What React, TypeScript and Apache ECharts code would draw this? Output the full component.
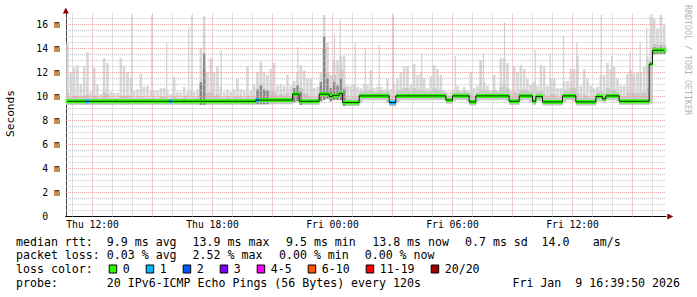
import { useEffect, useRef } from "react";
import * as echarts from "echarts";

// Time axis: minutes since Thu 00:00. Bins of 10 minutes starting Thu 10:40.
const START = 640;
const END = 2440;
const STEP = 10;

// median RTT (ms) per 10-minute bin, 6 bins per row (= 1 hour)
const median = [
  9.6, 9.6, 9.6, 9.6, 9.6, 9.6,
  9.6, 9.6, 9.6, 9.6, 9.6, 9.6,
  9.6, 9.6, 9.6, 9.6, 9.6, 9.6,
  9.6, 9.6, 9.6, 9.6, 9.6, 9.6,
  9.6, 9.6, 9.6, 9.6, 9.6, 9.6,
  9.6, 9.6, 9.6, 9.6, 9.6, 9.6,
  9.6, 9.6, 9.6, 9.6, 9.6, 9.6,
  9.6, 9.6, 9.6, 9.6, 9.6, 9.6,
  9.6, 9.6, 9.6, 9.6, 9.6, 9.6,
  9.6, 9.6, 9.6, 9.7, 9.7, 9.7,
  9.7, 9.7, 9.7, 9.7, 9.7, 9.7,
  9.7, 9.7, 10.2, 10.2, 9.6, 9.6,
  9.6, 9.6, 9.6, 9.6, 10.2, 10.2,
  10.2, 10.0, 10.1, 10.1, 10.25, 9.5,
  9.5, 9.5, 9.5, 9.5, 10.05, 10.05,
  10.05, 10.05, 10.05, 10.05, 10.05, 10.05,
  10.05, 9.5, 9.5, 10.05, 10.05, 10.05,
  10.05, 10.05, 10.05, 10.05, 10.05, 10.05,
  10.05, 10.05, 10.05, 10.05, 10.05, 10.05,
  9.7, 9.7, 10.05, 10.05, 10.05, 10.05,
  10.05, 9.55, 9.55, 10.05, 10.05, 10.05,
  10.05, 10.05, 10.05, 10.05, 10.05, 10.05,
  10.05, 9.6, 9.6, 9.6, 10.05, 10.05,
  10.05, 10.05, 9.6, 10.0, 10.0, 9.55,
  9.55, 9.55, 9.55, 9.55, 9.55, 10.05,
  10.05, 10.05, 10.05, 9.55, 9.55, 9.55,
  9.55, 9.55, 9.55, 10.0, 10.0, 9.8,
  10.05, 10.05, 10.05, 10.05, 9.6, 9.6,
  9.6, 9.6, 9.6, 9.6, 9.6, 9.6,
  9.6, 12.7, 13.85, 13.85, 13.85, 13.85,
];

// lowest ping per bin
const smokeMin = [
  9.3, 9.3, 9.3, 9.3, 9.3, 9.3,
  9.3, 9.3, 9.3, 9.3, 9.3, 9.3,
  9.3, 9.3, 9.3, 9.3, 9.3, 9.3,
  9.3, 9.3, 9.3, 9.3, 9.3, 9.3,
  9.3, 9.3, 9.3, 9.3, 9.3, 9.3,
  9.3, 9.3, 9.3, 9.3, 9.3, 9.3,
  9.3, 9.3, 9.3, 9.3, 9.3, 9.3,
  9.3, 9.3, 9.3, 9.3, 9.3, 9.3,
  9.3, 9.3, 9.3, 9.3, 9.3, 9.3,
  9.3, 9.3, 9.3, 9.35, 9.35, 9.35,
  9.35, 9.35, 9.35, 9.35, 9.35, 9.35,
  9.35, 9.35, 9.5, 9.6, 9.3, 9.3,
  9.3, 9.3, 9.3, 9.3, 9.6, 9.7,
  9.8, 9.6, 9.7, 9.7, 9.7, 9.2,
  9.2, 9.2, 9.2, 9.2, 9.5, 9.7,
  9.7, 9.7, 9.7, 9.7, 9.7, 9.7,
  9.5, 9.2, 9.2, 9.5, 9.7, 9.7,
  9.7, 9.7, 9.7, 9.7, 9.7, 9.7,
  9.7, 9.7, 9.7, 9.7, 9.7, 9.7,
  9.4, 9.4, 9.6, 9.7, 9.7, 9.7,
  9.6, 9.25, 9.25, 9.6, 9.7, 9.7,
  9.7, 9.7, 9.7, 9.7, 9.7, 9.7,
  9.6, 9.3, 9.3, 9.3, 9.6, 9.7,
  9.7, 9.5, 9.3, 9.6, 9.6, 9.25,
  9.25, 9.25, 9.25, 9.25, 9.25, 9.5,
  9.7, 9.7, 9.6, 9.25, 9.25, 9.25,
  9.25, 9.25, 9.25, 9.6, 9.6, 9.5,
  9.7, 9.7, 9.7, 9.6, 9.3, 9.3,
  9.3, 9.3, 9.3, 9.3, 9.3, 9.3,
  9.3, 9.4, 13.5, 13.55, 13.55, 13.55,
];

// upper edge of the dense smoke around the median
const smokeMid = [
  10.3, 10.0, 10.1, 10.1, 10.0, 10.1,
  10.2, 9.9, 10.1, 10.0, 9.9, 10.4,
  10.2, 9.9, 9.9, 9.9, 10.1, 10.1,
  10.1, 10.0, 9.9, 9.9, 10.0, 9.9,
  9.9, 9.9, 9.9, 9.9, 10.0, 10.0,
  9.9, 9.9, 10.0, 9.9, 9.9, 10.0,
  9.9, 9.9, 9.9, 10.0, 11.0, 12.2,
  10.3, 10.4, 10.1, 10.2, 10.0, 9.9,
  10.0, 9.9, 10.0, 10.1, 10.0, 9.9,
  10.1, 9.9, 10.0, 10.6, 11.0, 10.6,
  10.5, 10.5, 10.4, 10.1, 10.2, 10.1,
  10.3, 10.1, 10.7, 11.0, 10.7, 10.3,
  10.2, 10.0, 9.9, 10.0, 10.8, 14.0,
  12.0, 10.6, 11.8, 11.0, 12.3, 10.8,
  9.9, 9.9, 10.0, 9.9, 10.4, 10.5,
  10.5, 10.6, 10.4, 10.4, 10.5, 10.4,
  10.5, 9.9, 10.0, 10.5, 10.6, 10.7,
  10.7, 10.5, 10.7, 10.6, 10.6, 10.5,
  10.4, 10.5, 10.7, 10.6, 10.6, 10.4,
  10.1, 10.1, 10.4, 10.5, 10.4, 10.5,
  10.4, 10.3, 10.0, 10.4, 10.6, 10.5,
  10.5, 10.4, 10.6, 10.4, 10.8, 11.0,
  10.7, 10.1, 10.4, 10.3, 10.6, 10.6,
  10.5, 10.4, 10.1, 10.4, 10.5, 10.2,
  10.0, 10.2, 10.2, 9.9, 10.0, 10.5,
  10.5, 10.7, 10.7, 10.3, 9.9, 10.2,
  10.0, 9.9, 9.9, 10.4, 10.5, 10.3,
  10.7, 10.6, 10.6, 10.4, 10.1, 10.0,
  10.3, 10.4, 10.3, 10.3, 10.3, 10.4,
  10.7, 13.0, 14.4, 14.3, 14.4, 14.3,
];

// highest ping per bin
const smokeMax = [
  14.4, 12.0, 12.4, 12.6, 11.0, 12.5,
  13.7, 10.4, 12.4, 11.0, 10.2, 13.2,
  12.8, 10.4, 10.3, 10.3, 13.2, 12.5,
  12.0, 11.5, 10.5, 10.6, 11.9, 10.8,
  10.9, 10.5, 10.5, 10.5, 10.7, 10.7,
  10.4, 10.2, 11.6, 10.4, 10.4, 10.8,
  10.4, 10.5, 10.4, 10.6, 14.0, 16.7,
  12.0, 13.2, 12.0, 12.5, 10.8, 10.4,
  10.6, 10.4, 10.6, 11.5, 10.6, 10.5,
  12.5, 10.5, 11.0, 12.0, 12.9, 12.0,
  11.8, 12.3, 12.8, 10.9, 11.0, 10.9,
  11.8, 10.9, 11.3, 12.0, 12.6, 12.2,
  11.5, 11.5, 10.7, 10.8, 12.0, 16.8,
  14.5, 11.8, 13.0, 13.0, 13.4, 13.4,
  10.9, 10.9, 11.0, 10.8, 10.7, 11.0,
  11.0, 12.2, 10.7, 10.8, 10.8, 10.6,
  11.5, 10.6, 11.0, 11.5, 12.0, 12.5,
  12.5, 11.0, 12.7, 11.8, 12.0, 11.5,
  10.7, 11.7, 12.6, 12.3, 11.8, 10.5,
  10.4, 10.4, 10.6, 10.9, 10.5, 10.8,
  10.5, 12.05, 10.7, 10.9, 13.0, 11.2,
  10.9, 10.5, 11.8, 10.5, 13.2, 13.2,
  12.8, 10.5, 12.5, 12.0, 12.6, 12.3,
  11.5, 11.0, 11.2, 10.9, 12.6, 12.5,
  10.9, 11.5, 11.5, 10.7, 10.7, 11.2,
  11.3, 12.3, 12.3, 13.4, 10.9, 12.3,
  11.5, 10.9, 10.7, 10.8, 11.8, 11.8,
  12.8, 12.3, 12.5, 11.5, 10.9, 10.9,
  11.9, 12.2, 11.9, 12.0, 12.0, 12.5,
  13.3, 16.8, 16.5, 15.7, 16.8, 16.0,
];

// bins with dark (dense) smoke: [bin, top ms]
const darkSmoke = [
  [40, 11.2], [41, 13.6], [57, 10.6], [58, 10.9], [59, 10.6], [60, 10.5],
  [68, 10.7], [69, 10.9], [70, 10.4], [76, 11.2], [77, 15.0], [78, 11.5],
  [79, 10.7], [80, 11.2], [81, 10.9], [82, 11.5], [83, 10.6],
  [176, 14.1], [177, 14.0], [178, 14.1], [179, 14.0],
];

// single thin smoke spikes: [minute, top ms]
const spikes = [
  [838, 16.8], [898, 16.8], [943, 14.5], [1009, 15.7], [1018, 16.8], [1106, 13.9],
  [1336, 14.1], [1446, 15.2], [1463, 16.4], [1508, 14.5], [1538, 14.0], [1580, 14.3],
  [1623, 16.8], [1708, 13.6], [1808, 13.4], [1883, 13.0], [1893, 13.6], [1956, 16.2],
  [2048, 13.9], [2093, 13.6], [2133, 15.0], [2173, 14.5], [2246, 16.8], [2278, 13.4],
  [2333, 13.7], [2363, 14.5], [2383, 15.7],
];

// bins with packet loss: [bin, loss color index]
const lossBins = [[6, 1], [31, 1], [57, 1], [97, 1], [98, 1]];

const xLabelValues = [720, 1080, 1440, 1800, 2160];
const xLabelTexts = ["Thu 12:00", "Thu 18:00", "Fri 00:00", "Fri 06:00", "Fri 12:00"];
const yLabelValues = [0, 2, 4, 6, 8, 10, 12, 14, 16];

const lossLabels = ["0", "1", "2", "3", "4-5", "6-10", "11-19", "20/20"];
const lossColors = ["#26ff00", "#00b8ff", "#0059ff", "#7e00ff", "#ff00ff", "#ff5500", "#ff0000", "#a10000"];

const rttStats = ["9.9 ms avg", "13.9 ms max", "9.5 ms min", "13.8 ms now", "0.7 ms sd", "14.0", "am/s"];
const lossStats = ["0.03 % avg", "2.52 % max", "0.00 % min", "0.00 % now"];
const probeText = "20 IPv6-ICMP Echo Pings (56 Bytes) every 120s";
const dateText = "Fri Jan  9 16:39:50 2026";

const MONO = "DejaVu Sans Mono";

export default function App() {
  const ref = useRef<HTMLDivElement>(null);

  useEffect(() => {
    const chart = echarts.init(ref.current!, null, { renderer: "svg" });

    const binStart = (i: number) => START + i * STEP;
    const hazeData = median.map((_, i) => [binStart(i), binStart(i) + STEP, smokeMin[i], smokeMid[i]]);
    const lightData = median.map((_, i) => [binStart(i) + STEP / 2, smokeMid[i], smokeMax[i]]);
    const darkData = darkSmoke.map(([b, top]) => [binStart(b) + STEP / 2, smokeMin[b], top]);
    const spikeData = spikes.map(([t, top]) => [t, median[Math.floor((t - START) / STEP)], top]);
    const lineData = median.map((m, i) => [binStart(i) + STEP / 2, m]);
    const lossMap: Record<number, number> = {};
    lossBins.forEach(([b, c]) => (lossMap[b] = c));
    const greenData = median.map((m, i) => [binStart(i), binStart(i) + STEP, m, lossMap[i] || 0]);

    // grid positions (hourly minor, 3-hourly major; 0.5 ms minor, 2 ms major)
    const minorX: number[] = [];
    const majorX: number[] = [];
    for (let t = 660; t < END; t += 60) {
      if (t % 180 === 0) majorX.push(t);
      else minorX.push(t);
    }
    const minorY: number[] = [];
    for (let v = 0.5; v < 17; v += 0.5) if (v % 2 !== 0) minorY.push(v);
    const majorY = yLabelValues.filter((v) => v > 0);

    const band = (color: string) => (params: any, api: any) => {
      const a = api.coord([api.value(0), api.value(2)]);
      const b = api.coord([api.value(1), api.value(3)]);
      return {
        type: "rect",
        shape: { x: a[0], y: b[1], width: b[0] - a[0] + 0.35, height: a[1] - b[1] },
        style: { fill: color },
      };
    };
    const thin = (color: string, w: number) => (params: any, api: any) => {
      const a = api.coord([api.value(0), api.value(1)]);
      const b = api.coord([api.value(0), api.value(2)]);
      return {
        type: "rect",
        shape: { x: a[0] - w / 2, y: b[1], width: w, height: a[1] - b[1] },
        style: { fill: color },
      };
    };

    const gridSeries = (name: string, color: string, xs: number[], ys: number[]) => ({
      type: "line",
      name,
      data: [],
      silent: true,
      markLine: {
        silent: true,
        z: 3,
        symbol: ["none", "none"],
        label: { show: false },
        emphasis: { disabled: true },
        lineStyle: { color, width: 1, type: [1, 1] },
        data: [...xs.map((t) => ({ xAxis: t })), ...ys.map((v) => ({ yAxis: v }))],
      },
    });

    // legend graphics
    const rowY = [241.5, 255.3, 269.3, 282.8];
    const txt = (x: number, y: number, text: string, extra: any = {}) => ({
      type: "text",
      x,
      y,
      silent: true,
      style: { text, fill: "#000", font: `11.6px '${MONO}'`, textAlign: "left", textVerticalAlign: "middle", ...extra },
    });
    const graphics: any[] = [];
    graphics.push(txt(16, rowY[0], "median rtt:"));
    const rttX = [106.8, 192.6, 286, 372.2, 465, 541.5, 592.8];
    rttStats.forEach((s, i) => graphics.push(txt(rttX[i], rowY[0], s)));
    graphics.push(txt(16, rowY[1], "packet loss:"));
    const lossX = [106.8, 192.6, 279, 364.7];
    lossStats.forEach((s, i) => graphics.push(txt(lossX[i], rowY[1], s)));
    graphics.push(txt(16, rowY[2], "loss color:"));
    let bx = 108.7;
    lossLabels.forEach((lab, i) => {
      graphics.push({
        type: "rect",
        silent: true,
        shape: { x: bx + 0.5, y: rowY[2] - 4.3, width: 7.5, height: 8 },
        style: { fill: lossColors[i], stroke: "#000", lineWidth: 1 },
      });
      graphics.push(txt(bx + 14, rowY[2], lab));
      bx += 30 + 7 * lab.length;
    });
    graphics.push(txt(16, rowY[3], "probe:"));
    graphics.push(txt(106.8, rowY[3], probeText));
    graphics.push(txt(680, rowY[3], dateText, { textAlign: "right" }));
    graphics.push({
      type: "text",
      x: 10,
      y: 113.5,
      rotation: Math.PI / 2,
      silent: true,
      style: { text: "Seconds", fill: "#000", font: `11.2px '${MONO}'`, textAlign: "center", textVerticalAlign: "middle" },
    });
    graphics.push({
      type: "text",
      x: 688,
      y: 60,
      rotation: -Math.PI / 2,
      silent: true,
      style: { text: "RRDTOOL / TOBI OETIKER", fill: "#b4b4b4", font: `8.3px '${MONO}'`, textAlign: "center", textVerticalAlign: "middle" },
    });

    const option: any = {
      animation: false,
      backgroundColor: "#ffffff",
      textStyle: { fontFamily: MONO },
      grid: { left: 65.83, top: 12.5, width: 600, height: 204, containLabel: false, outerBoundsMode: "none" },
      xAxis: [
        {
          type: "value",
          min: START,
          max: END,
          position: "bottom",
          axisLine: {
            show: true,
            onZero: false,
            lineStyle: { color: "#8b0000", width: 1 },
            symbol: ["none", "triangle"],
            symbolSize: [6, 6],
            symbolOffset: [0, 4.5],
          },
          axisTick: { show: false },
          axisLabel: { show: false },
          splitLine: { show: false },
        },
        {
          type: "value",
          min: START,
          max: END,
          position: "bottom",
          axisLine: { show: true, onZero: false, lineStyle: { color: "#000", width: 1 } },
          axisTick: { show: false },
          axisLabel: {
            show: true,
            customValues: xLabelValues,
            formatter: (v: number) => {
              const k = xLabelValues.indexOf(v);
              return k >= 0 ? xLabelTexts[k] : "";
            },
            fontFamily: MONO,
            fontSize: 9.7,
            color: "#000",
            margin: 3,
          },
          splitLine: { show: false },
        },
      ],
      yAxis: [
        {
          type: "value",
          min: 0,
          max: 17,
          position: "left",
          axisLine: {
            show: true,
            onZero: false,
            lineStyle: { color: "#8b0000", width: 1 },
            symbol: ["none", "triangle"],
            symbolSize: [6, 6],
            symbolOffset: [0, 2],
          },
          axisTick: { show: false },
          axisLabel: { show: false },
          splitLine: { show: false },
        },
        {
          type: "value",
          min: 0,
          max: 17,
          position: "left",
          axisLine: { show: true, onZero: false, lineStyle: { color: "#404040", width: 1 } },
          axisTick: { show: false },
          axisLabel: {
            show: true,
            customValues: yLabelValues,
            formatter: (v: number) => (v === 0 ? "0\u00a0\u00a0" : `${v} m`),
            fontFamily: MONO,
            fontSize: 9.8,
            color: "#000",
            margin: 6,
          },
          splitLine: { show: false },
        },
      ],
      graphic: graphics,
      series: [
        {
          type: "custom",
          name: "smokeHaze",
          silent: true,
          renderItem: band("#c8c8c8"),
          data: hazeData,
          encode: { x: [0, 1], y: [2, 3] },
        },
        {
          type: "custom",
          name: "smokeHigh",
          silent: true,
          renderItem: thin("#d7d7d7", 2.6),
          data: lightData,
          encode: { x: 0, y: [1, 2] },
        },
        {
          type: "custom",
          name: "spikes",
          silent: true,
          renderItem: thin("#d0d0d0", 1.2),
          data: spikeData,
          encode: { x: 0, y: [1, 2] },
        },
        {
          type: "custom",
          name: "smokeDark",
          silent: true,
          renderItem: thin("#858585", 2.2),
          data: darkData,
          encode: { x: 0, y: [1, 2] },
        },
        gridSeries("minorGrid", "#c4c4c4", minorX, minorY),
        gridSeries("majorGrid", "#eb9a9a", majorX, majorY),
        {
          type: "line",
          name: "median",
          z: 4,
          data: lineData,
          step: "middle",
          symbol: "none",
          silent: true,
          lineStyle: { color: "#1a1a1a", width: 1 },
        },
        {
          type: "custom",
          name: "loss",
          z: 4,
          silent: true,
          renderItem: (params: any, api: any) => {
            const a = api.coord([api.value(0), api.value(2)]);
            const b = api.coord([api.value(1), api.value(2)]);
            return {
              type: "rect",
              shape: { x: a[0], y: a[1] - 2, width: b[0] - a[0] + 0.35, height: 4 },
              style: { fill: lossColors[api.value(3)] },
            };
          },
          data: greenData,
          encode: { x: [0, 1], y: 2 },
        },
      ],
    };

    chart.setOption(option);
    return () => chart.dispose();
  }, []);

  return (
    <div
      ref={ref}
      style={{ position: "fixed", left: 0, top: 0, width: 697, height: 297, background: "#fff" }}
    />
  );
}
